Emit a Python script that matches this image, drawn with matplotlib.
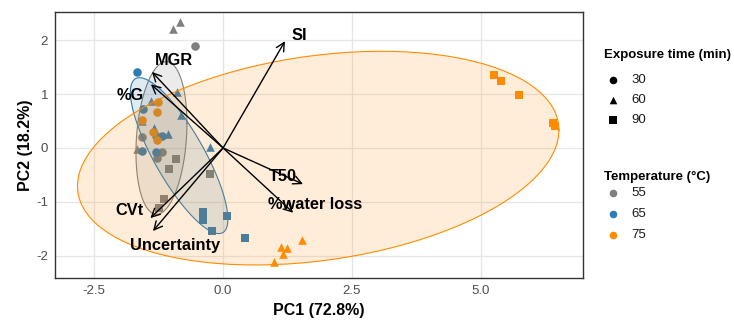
import numpy as np
import matplotlib
matplotlib.use("Agg")
import matplotlib.pyplot as plt

plt.rcParams['font.family'] = ['Liberation Sans', 'DejaVu Sans']
plt.rcParams['axes.unicode_minus'] = False

# PCA scores by temperature (°C) and exposure time (min)
temps = ['55', '65', '75']
times = ['30', '60', '90']
temp_colors = {'55': '#7f7f7f', '65': '#2e7bb4', '75': '#ff8c00'}
time_markers = {'30': 'o', '60': '^', '90': 's'}

scores = {
    ('55', '30'): [(-0.54, 1.89), (-1.57, 0.20), (-1.30, 0.22), (-1.18, -0.07), (-1.28, -0.19)],
    ('55', '60'): [(-0.97, 2.20), (-0.83, 2.33), (-1.40, 0.87), (-1.57, 0.50), (-1.67, -0.02)],
    ('55', '90'): [(-0.91, -0.20), (-1.05, -0.39), (-0.25, -0.48), (-1.14, -0.94), (-1.24, -1.11)],
    ('65', '30'): [(-1.67, 1.41), (-1.55, 0.72), (-1.18, 0.22), (-1.57, -0.06), (-1.30, -0.07)],
    ('65', '60'): [(-0.89, 1.04), (-0.81, 0.61), (-1.34, 0.37), (-1.07, 0.26), (-0.25, 0.02)],
    ('65', '90'): [(-0.39, -1.19), (-0.39, -1.33), (0.08, -1.26), (-0.21, -1.54), (0.43, -1.67)],
    ('75', '30'): [(-1.26, 0.85), (-1.28, 0.67), (-1.57, 0.52), (-1.28, 0.15), (-1.35, 0.30)],
    ('75', '60'): [(1.12, -1.83), (1.24, -1.85), (1.16, -1.96), (1.53, -1.70), (0.99, -2.11)],
    ('75', '90'): [(5.25, 1.35), (5.39, 1.24), (5.74, 0.98), (6.40, 0.46), (6.43, 0.41)],
}

# variable loadings (arrow tips) and label positions
var_names = ['SI', 'MGR', '%G', 'T50', '%water loss', 'CVt', 'Uncertainty']
var_tips = [(1.20, 1.98), (-1.38, 1.41), (-1.40, 1.18), (1.55, -0.67),
            (1.36, -1.20), (-1.41, -1.30), (-1.36, -1.54)]
var_label_pos = [(1.47, 2.09), (-0.95, 1.63), (-1.80, 0.98), (1.16, -0.52),
                 (1.78, -1.04), (-1.82, -1.15), (-0.93, -1.80)]

ellipse_level = 0.68


def cov_trob(xy, nu=5, maxit=25, tol=0.01):
    # robust multivariate t location/scatter (MASS::cov.trob iteration)
    n, p = xy.shape
    loc = xy.mean(axis=0)
    w = np.ones(n)
    for _ in range(maxit):
        w0 = w
        X = xy - loc
        cov = (w[:, None] * X).T @ X / w.sum()
        Q = np.einsum('ij,jk,ik->i', X, np.linalg.inv(cov), X)
        w = (nu + p) / (nu + Q)
        loc = (w[:, None] * xy).sum(axis=0) / w.sum()
        if np.all(np.abs(w - w0) < tol):
            break
    cov = (w[:, None] * X).T @ X / n
    return loc, cov


def t_ellipse(xy, level, segments=100):
    d = len(xy) - 1
    qf = (d / 2.0) * ((1 - level) ** (-2.0 / d) - 1)   # F(2, d) quantile
    center, shape = cov_trob(xy)
    R = np.linalg.cholesky(shape).T
    ang = np.linspace(0, 2 * np.pi, segments + 1)
    circle = np.column_stack([np.cos(ang), np.sin(ang)])
    return center + np.sqrt(2 * qf) * (circle @ R)


fig = plt.figure(figsize=(7.34, 3.28), dpi=100)
W, H = 734, 328
ax = fig.add_axes([55 / W, 1 - 278 / H, (583 - 55) / W, (278 - 12) / H])

for t in temps:
    for m in times:
        pts = np.array(scores[(t, m)])
        ax.scatter(pts[:, 0], pts[:, 1], marker=time_markers[m], s=38 if m != '^' else 50,
                   color=temp_colors[t], linewidths=0, zorder=2)

for t in temps:
    pts = np.vstack([np.array(scores[(t, m)]) for m in times])
    el = t_ellipse(pts, ellipse_level)
    ax.fill(el[:, 0], el[:, 1], color=temp_colors[t], alpha=0.15, lw=0, zorder=3)
    ax.plot(el[:, 0], el[:, 1], color=temp_colors[t], lw=0.8, zorder=3)

for name, tip, lab in zip(var_names, var_tips, var_label_pos):
    ax.annotate('', xy=tip, xytext=(0, 0),
                arrowprops=dict(arrowstyle='->,head_length=0.6,head_width=0.3',
                                color='black', lw=1.0, shrinkA=0, shrinkB=0),
                zorder=4)
    ax.text(lab[0], lab[1], name, ha='center', va='center', fontsize=11.8,
            fontweight='bold', color='black', zorder=5)

ax.set_xlim(-3.26, 6.98)
ax.set_ylim(-2.41, 2.52)
ax.set_xticks([-2.5, 0.0, 2.5, 5.0])
ax.set_xticklabels(['-2.5', '0.0', '2.5', '5.0'])
ax.set_yticks([-2, -1, 0, 1, 2])
ax.grid(True, color='#e6e6e6', lw=0.9, zorder=0)
ax.set_axisbelow(True)
ax.tick_params(length=0, labelsize=9.5, labelcolor='#4d4d4d', pad=5)
for sp in ax.spines.values():
    sp.set_color('#333333')
    sp.set_linewidth(1.0)
ax.set_xlabel('PC1 (72.8%)', fontsize=11.5, fontweight='bold', labelpad=4)
ax.set_ylabel('PC2 (18.2%)', fontsize=11.5, fontweight='bold', labelpad=2)

# legends in pixel space to the right of the panel
lg = fig.add_axes([0, 0, 1, 1], facecolor='none')
lg.set_xlim(0, W)
lg.set_ylim(H, 0)
lg.axis('off')
lg.text(604, 55, 'Exposure time (min)', fontsize=9.5, fontweight='bold', va='center')
for i, m in enumerate(times):
    y = 80 + 20 * i
    lg.scatter([613], [y], marker=time_markers[m], s=30 if m != '^' else 38, color='black', linewidths=0)
    lg.text(631, y, m, fontsize=9.5, va='center', color='#1a1a1a')
lg.text(604, 177, 'Temperature (°C)', fontsize=9.5, fontweight='bold', va='center')
for i, t in enumerate(temps):
    y = 193 + 21 * i
    lg.scatter([613], [y], marker='o', s=30, color=temp_colors[t], linewidths=0)
    lg.text(631, y, t, fontsize=9.5, va='center', color='#1a1a1a')

fig.savefig('out.png', dpi=100)
